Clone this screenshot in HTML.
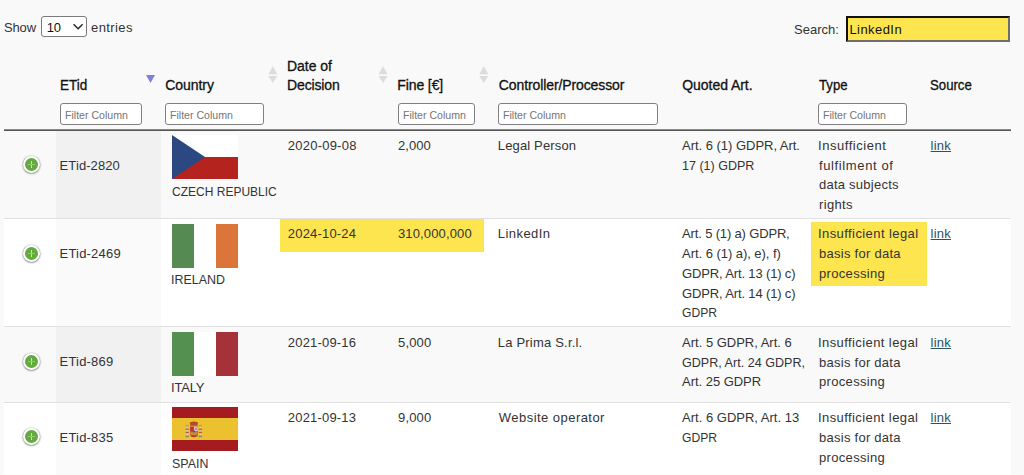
<!DOCTYPE html>
<html><head><meta charset="utf-8"><title>Fines</title>
<style>
html,body{margin:0;padding:0;}
body{width:1024px;height:475px;overflow:hidden;background:#f9f9f9;position:relative;font-family:"Liberation Sans",sans-serif;}
.t{position:absolute;white-space:pre;line-height:20px;color:#333;transform-origin:0 0;}
.abs{position:absolute;}
.sel{position:absolute;left:41px;top:16px;width:44px;height:19px;border:1px solid #7a7a7a;border-radius:3px;background:#fff;}
.srch{position:absolute;left:846px;top:16px;width:160px;height:22px;border-style:solid;border-width:2px;border-color:#111 #6f6f6f #6f6f6f #111;background:#fde54f;}
.flt{position:absolute;top:103px;height:20px;border:1px solid #808080;border-radius:3px;background:#fff;box-sizing:content-box;}
.row{position:absolute;left:4px;width:1007px;}
.sortc{position:absolute;left:52px;width:105px;}
.sep{position:absolute;left:4px;width:1007px;height:1px;background:#e1e1e1;}
.dtc{position:absolute;left:23px;width:13px;height:13px;border:2px solid #fff;border-radius:50%;background:#62ab3c;box-shadow:0 0.4px 1.6px 0.4px #808080;}
.dtc:before{content:"";position:absolute;left:6px;top:3px;width:1px;height:7px;background:#c9e2be;}
.dtc:after{content:"";position:absolute;left:3px;top:6px;width:7px;height:1px;background:#93c47e;}
.yel{position:absolute;background:#fde54f;}
.flag{position:absolute;left:172px;width:66px;height:44px;}
</style></head><body>
<!-- length control -->
<div class="sel"></div>
<svg class="abs" style="left:0;top:0" width="100" height="40"><polyline points="73.6,24.2 78.1,28.7 82.6,24.2" fill="none" stroke="#222" stroke-width="1.4"/></svg>
<!-- search -->
<div class="srch"></div>

<!-- header -->
<div class="flt" style="left:60px;width:80px"></div>
<div class="flt" style="left:165px;width:97px"></div>
<div class="flt" style="left:398px;width:75px"></div>
<div class="flt" style="left:498px;width:158px"></div>
<div class="flt" style="left:818px;width:87px"></div>
<svg class="abs" style="left:0;top:60px" width="500" height="30">
 <polygon points="146,15 155,15 150.5,23" fill="#7f7fde"/>
 <g fill="#dcdcdc">
  <polygon points="268.3,14.2 277.3,14.2 272.8,6.3"/><polygon points="268.3,16.1 277.3,16.1 272.8,23"/>
  <polygon points="378.6,14.2 387.6,14.2 383.1,6.3"/><polygon points="378.6,16.1 387.6,16.1 383.1,23"/>
  <polygon points="479.3,14.2 488.3,14.2 483.8,6.3"/><polygon points="479.3,16.1 488.3,16.1 483.8,23"/>
 </g>
</svg>
<div class="abs" style="left:4px;top:129px;width:1007px;height:1px;background:#8a8a8a"></div>
<div class="abs" style="left:4px;top:130px;width:1007px;height:1px;background:#555"></div>

<!-- rows -->
<div class="row" style="top:131px;height:87px;background:#f9f9f9"></div>
<div class="abs" style="left:56px;top:131px;width:105px;height:87px;background:#f1f1f1"></div>
<div class="sep" style="top:218px"></div>
<div class="row" style="top:219px;height:107px;background:#fff"></div>
<div class="abs" style="left:56px;top:219px;width:105px;height:107px;background:#fafafa"></div>
<div class="sep" style="top:326px"></div>
<div class="row" style="top:327px;height:75px;background:#f9f9f9"></div>
<div class="abs" style="left:56px;top:327px;width:105px;height:75px;background:#f1f1f1"></div>
<div class="sep" style="top:402px"></div>
<div class="row" style="top:403px;height:72px;background:#fff"></div>
<div class="abs" style="left:56px;top:403px;width:105px;height:72px;background:#fafafa"></div>

<!-- highlights -->
<div class="yel" style="left:280px;top:219px;width:204px;height:33px"></div>
<div class="yel" style="left:811px;top:222px;width:116px;height:64px"></div>

<!-- expand controls -->
<div class="dtc" style="top:156px"></div>
<div class="dtc" style="top:245px"></div>
<div class="dtc" style="top:353px"></div>
<div class="dtc" style="top:428px"></div>

<!-- flags -->
<svg class="flag" style="top:135px" viewBox="0 0 66 44" preserveAspectRatio="none"><rect width="66" height="22" fill="#fff"/><rect y="22" width="66" height="22" fill="#b4231e"/><polygon points="0,0 33,22 0,44" fill="#2c4880"/></svg>
<svg class="flag" style="top:223.5px" viewBox="0 0 66 44" preserveAspectRatio="none"><rect width="22" height="44" fill="#558a52"/><rect x="22" width="22" height="44" fill="#fff"/><rect x="44" width="22" height="44" fill="#dc7539"/></svg>
<svg class="flag" style="top:331.5px" viewBox="0 0 66 44" preserveAspectRatio="none"><rect width="22" height="44" fill="#54904f"/><rect x="22" width="22" height="44" fill="#fff"/><rect x="44" width="22" height="44" fill="#a43238"/></svg>
<svg class="flag" style="top:407px" viewBox="0 0 66 44" preserveAspectRatio="none"><rect width="66" height="44" fill="#a51c20"/><rect y="11" width="66" height="22" fill="#ecc12f"/>
 <g>
  <rect x="14" y="19" width="2.4" height="10.5" fill="#dcc9a0"/><rect x="13.6" y="21.6" width="3.2" height="1.3" fill="#c4533a"/><rect x="13.6" y="24.8" width="3.2" height="1.3" fill="#c4533a"/>
  <rect x="13.5" y="18" width="3.4" height="1.4" fill="#c49a38"/><rect x="13.5" y="28.6" width="3.4" height="1.6" fill="#7f8a6a"/>
  <rect x="27.2" y="19" width="2.4" height="10.5" fill="#dcc9a0"/><rect x="26.8" y="21.6" width="3.2" height="1.3" fill="#c4533a"/><rect x="26.8" y="24.8" width="3.2" height="1.3" fill="#c4533a"/>
  <rect x="26.7" y="18" width="3.4" height="1.4" fill="#c49a38"/><rect x="26.7" y="28.6" width="3.4" height="1.6" fill="#7f8a6a"/>
  <path d="M17.8 15.6 Q21.9 13.2 26 15.6 L25.5 18.8 L18.3 18.8 Z" fill="#b44a2c"/>
  <rect x="21.4" y="13.6" width="1" height="1.4" fill="#c49a38"/>
  <path d="M18 19.4 H26 V27 Q26 30.2 22 30.2 Q18 30.2 18 27 Z" fill="#bf3a2c"/>
  <rect x="22" y="19.6" width="3.8" height="4.6" fill="#e2c6d6"/><rect x="23.1" y="20.6" width="1.8" height="2.4" fill="#c27aa6"/>
  <rect x="18.3" y="24.6" width="7.4" height="3.6" fill="#c88a3c"/>
  <circle cx="22" cy="24.4" r="1.1" fill="#4a5f8a"/>
 </g>
</svg>

<span class="t" style="left:4.00px;top:18px;font-size:13px;letter-spacing:-0.14px;">Show</span>
<span class="t" style="left:46.80px;top:18px;font-size:13px;color:#111;letter-spacing:-0.23px;">10</span>
<span class="t" style="left:91.00px;top:18px;font-size:13px;letter-spacing:0.41px;">entries</span>
<span class="t" style="left:794.10px;top:20px;font-size:13px;">Search:</span>
<span class="t" style="left:849.40px;top:20px;font-size:13px;color:#111;letter-spacing:0.44px;">LinkedIn</span>
<span class="t" style="left:59.54px;top:75px;font-size:14px;color:#111;transform:scaleX(0.963);-webkit-text-stroke:0.3px #111;">ETid</span>
<span class="t" style="left:165.20px;top:75px;font-size:14px;color:#111;letter-spacing:-0.04px;-webkit-text-stroke:0.3px #111;">Country</span>
<span class="t" style="left:287.00px;top:56px;font-size:14px;color:#111;letter-spacing:-0.04px;-webkit-text-stroke:0.3px #111;">Date of</span>
<span class="t" style="left:287.00px;top:75px;font-size:14px;color:#111;letter-spacing:-0.13px;-webkit-text-stroke:0.3px #111;">Decision</span>
<span class="t" style="left:397.30px;top:75px;font-size:14px;color:#111;letter-spacing:-0.11px;-webkit-text-stroke:0.3px #111;">Fine [€]</span>
<span class="t" style="left:498.75px;top:75px;font-size:14px;color:#111;letter-spacing:-0.10px;-webkit-text-stroke:0.3px #111;">Controller/Processor</span>
<span class="t" style="left:682.20px;top:75px;font-size:14px;color:#111;letter-spacing:-0.04px;-webkit-text-stroke:0.3px #111;">Quoted Art.</span>
<span class="t" style="left:819.00px;top:75px;font-size:14px;color:#111;transform:scaleX(0.939);-webkit-text-stroke:0.3px #111;">Type</span>
<span class="t" style="left:930.00px;top:75px;font-size:14px;color:#111;transform:scaleX(0.942);-webkit-text-stroke:0.3px #111;">Source</span>
<span class="t" style="left:65.00px;top:105px;font-size:10.6px;color:#757575;letter-spacing:-0.01px;">Filter Column</span>
<span class="t" style="left:170.00px;top:105px;font-size:10.6px;color:#757575;letter-spacing:-0.01px;">Filter Column</span>
<span class="t" style="left:403.00px;top:105px;font-size:10.6px;color:#757575;letter-spacing:-0.01px;">Filter Column</span>
<span class="t" style="left:503.00px;top:105px;font-size:10.6px;color:#757575;letter-spacing:-0.01px;">Filter Column</span>
<span class="t" style="left:823.00px;top:105px;font-size:10.6px;color:#757575;letter-spacing:-0.01px;">Filter Column</span>
<span class="t" style="left:59.60px;top:156px;font-size:13px;letter-spacing:0.09px;">ETid-2820</span>
<span class="t" style="left:172.00px;top:182px;font-size:13px;transform:scaleX(0.924);">CZECH REPUBLIC</span>
<span class="t" style="left:287.80px;top:136px;font-size:13px;letter-spacing:0.23px;">2020-09-08</span>
<span class="t" style="left:398.00px;top:136px;font-size:13px;letter-spacing:0.07px;">2,000</span>
<span class="t" style="left:497.80px;top:136px;font-size:13px;letter-spacing:0.15px;">Legal Person</span>
<span class="t" style="left:682.10px;top:136px;font-size:13px;letter-spacing:-0.03px;">Art. 6 (1) GDPR, Art.</span>
<span class="t" style="left:682.10px;top:156px;font-size:13px;transform:scaleX(0.963);">17 (1) GDPR</span>
<span class="t" style="left:818.00px;top:136px;font-size:13px;letter-spacing:0.54px;">Insufficient</span>
<span class="t" style="left:819.00px;top:156px;font-size:13px;letter-spacing:0.62px;">fulfilment of</span>
<span class="t" style="left:819.00px;top:175px;font-size:13px;letter-spacing:0.24px;">data subjects</span>
<span class="t" style="left:819.00px;top:195px;font-size:13px;letter-spacing:0.34px;">rights</span>
<span class="t" style="left:930.60px;top:136px;font-size:13px;color:#2b5366;letter-spacing:0.23px;text-decoration:underline;">link</span>
<span class="t" style="left:59.60px;top:244px;font-size:13px;letter-spacing:0.19px;">ETid-2469</span>
<span class="t" style="left:171.04px;top:270px;font-size:13px;transform:scaleX(0.957);">IRELAND</span>
<span class="t" style="left:287.80px;top:224px;font-size:13px;letter-spacing:0.19px;">2024-10-24</span>
<span class="t" style="left:398.00px;top:224px;font-size:13px;letter-spacing:0.14px;">310,000,000</span>
<span class="t" style="left:497.80px;top:224px;font-size:13px;letter-spacing:0.44px;">LinkedIn</span>
<span class="t" style="left:682.10px;top:224px;font-size:13px;letter-spacing:-0.16px;">Art. 5 (1) a) GDPR,</span>
<span class="t" style="left:682.10px;top:244px;font-size:13px;letter-spacing:-0.05px;">Art. 6 (1) a), e), f)</span>
<span class="t" style="left:682.10px;top:264px;font-size:13px;letter-spacing:-0.15px;">GDPR, Art. 13 (1) c)</span>
<span class="t" style="left:682.10px;top:284px;font-size:13px;letter-spacing:-0.15px;">GDPR, Art. 14 (1) c)</span>
<span class="t" style="left:682.10px;top:303px;font-size:13px;transform:scaleX(0.934);">GDPR</span>
<span class="t" style="left:818.00px;top:224px;font-size:13px;letter-spacing:0.42px;">Insufficient legal</span>
<span class="t" style="left:819.00px;top:244px;font-size:13px;letter-spacing:0.27px;">basis for data</span>
<span class="t" style="left:819.00px;top:264px;font-size:13px;letter-spacing:0.33px;">processing</span>
<span class="t" style="left:930.60px;top:224px;font-size:13px;color:#2b5366;letter-spacing:0.23px;text-decoration:underline;">link</span>
<span class="t" style="left:59.60px;top:352px;font-size:13px;letter-spacing:0.18px;">ETid-869</span>
<span class="t" style="left:171.00px;top:378px;font-size:13px;letter-spacing:-0.21px;">ITALY</span>
<span class="t" style="left:287.80px;top:333px;font-size:13px;letter-spacing:0.19px;">2021-09-16</span>
<span class="t" style="left:398.00px;top:333px;font-size:13px;letter-spacing:0.17px;">5,000</span>
<span class="t" style="left:497.80px;top:333px;font-size:13px;letter-spacing:0.20px;">La Prima S.r.l.</span>
<span class="t" style="left:682.10px;top:333px;font-size:13px;letter-spacing:-0.01px;">Art. 5 GDPR, Art. 6</span>
<span class="t" style="left:682.10px;top:353px;font-size:13px;transform:scaleX(0.967);">GDPR, Art. 24 GDPR,</span>
<span class="t" style="left:682.10px;top:372px;font-size:13px;letter-spacing:-0.04px;">Art. 25 GDPR</span>
<span class="t" style="left:818.00px;top:333px;font-size:13px;letter-spacing:0.41px;">Insufficient legal</span>
<span class="t" style="left:819.00px;top:353px;font-size:13px;letter-spacing:0.26px;">basis for data</span>
<span class="t" style="left:819.00px;top:372px;font-size:13px;letter-spacing:0.33px;">processing</span>
<span class="t" style="left:930.60px;top:333px;font-size:13px;color:#2b5366;letter-spacing:0.23px;text-decoration:underline;">link</span>
<span class="t" style="left:59.60px;top:428px;font-size:13px;letter-spacing:0.18px;">ETid-835</span>
<span class="t" style="left:172.00px;top:454px;font-size:13px;transform:scaleX(0.956);">SPAIN</span>
<span class="t" style="left:287.80px;top:408px;font-size:13px;letter-spacing:0.19px;">2021-09-13</span>
<span class="t" style="left:398.00px;top:408px;font-size:13px;letter-spacing:0.17px;">9,000</span>
<span class="t" style="left:498.80px;top:408px;font-size:13px;letter-spacing:0.46px;">Website operator</span>
<span class="t" style="left:682.10px;top:408px;font-size:13px;">Art. 6 GDPR, Art. 13</span>
<span class="t" style="left:682.10px;top:428px;font-size:13px;transform:scaleX(0.934);">GDPR</span>
<span class="t" style="left:818.00px;top:408px;font-size:13px;letter-spacing:0.41px;">Insufficient legal</span>
<span class="t" style="left:819.00px;top:428px;font-size:13px;letter-spacing:0.26px;">basis for data</span>
<span class="t" style="left:819.00px;top:448px;font-size:13px;letter-spacing:0.33px;">processing</span>
<span class="t" style="left:930.60px;top:408px;font-size:13px;color:#2b5366;letter-spacing:0.23px;text-decoration:underline;">link</span>
</body></html>
